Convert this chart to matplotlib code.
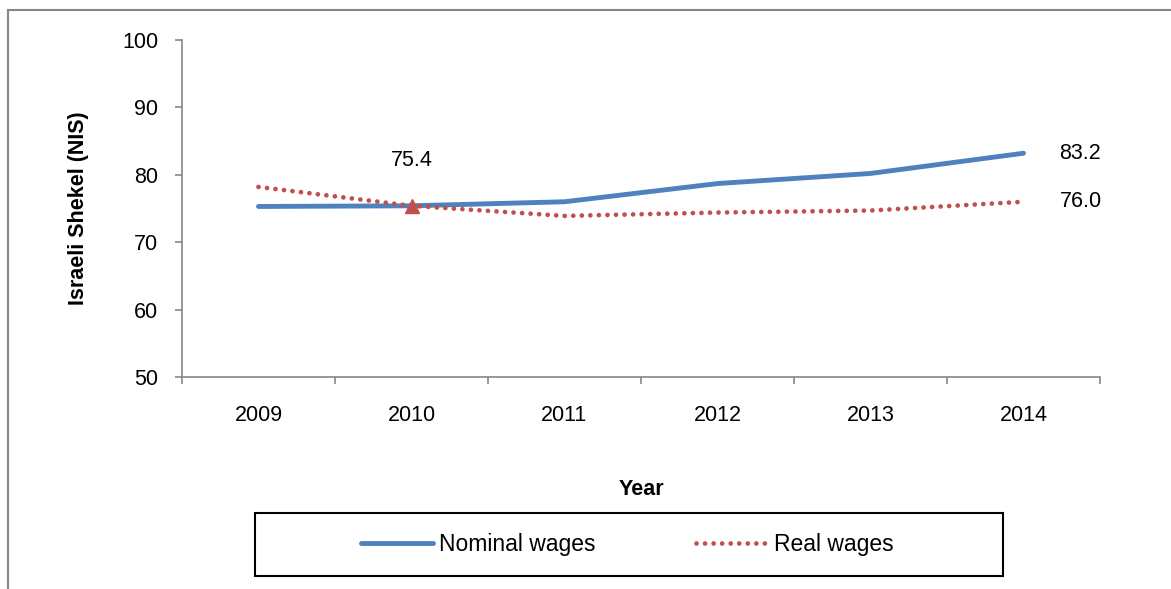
import matplotlib
matplotlib.use('Agg')
import matplotlib.pyplot as plt
from matplotlib.patches import Rectangle
import numpy as np

years = ['2009', '2010', '2011', '2012', '2013', '2014']
nominal = [75.3, 75.4, 76.0, 78.7, 80.2, 83.2]
real = [78.2, 75.4, 73.9, 74.4, 74.7, 76.0]

blue = '#4F81BD'
red = '#C0504D'
grey = '#868686'
fs = 15.5

plt.rcParams['font.family'] = ['Liberation Sans', 'DejaVu Sans']

fig = plt.figure(figsize=(11.71, 5.89), dpi=100)
ax = fig.add_axes([182/1171, 1-377/589, (1100-182)/1171, (377-40)/589])

x = np.arange(len(years))
ax.plot(x, nominal, color=blue, lw=3.5, solid_capstyle='round',
        label='Nominal wages')
ax.plot(x, real, color=red, lw=3.4, linestyle=(0, (0.01, 1.8)),
        dash_capstyle='round', label='Real wages')
ax.plot(x[1], real[1], marker='^', color=red, markersize=10, ls='none')

# data labels
ax.annotate(f'{real[1]:.1f}', (x[1], real[1]), xytext=(0, 25),
            textcoords='offset points', ha='center', va='bottom', fontsize=fs)
ax.annotate(f'{nominal[-1]:.1f}', (x[-1], nominal[-1]), xytext=(26, 0),
            textcoords='offset points', ha='left', va='center', fontsize=fs)
ax.annotate(f'{real[-1]:.1f}', (x[-1], real[-1]), xytext=(26, 0),
            textcoords='offset points', ha='left', va='center', fontsize=fs)

ax.set_xlim(-0.5, len(years) - 0.5)
ax.set_ylim(50, 100)
ax.set_yticks(range(50, 101, 10))
ax.set_xticks(np.arange(len(years) + 1) - 0.5)
ax.set_xticklabels([])
ax.set_xticks(x, minor=True)
ax.set_xticklabels(years, minor=True)
ax.tick_params(axis='x', which='minor', length=0, pad=20, labelsize=fs)
ax.tick_params(axis='x', which='major', length=5, color=grey, width=1.2)
ax.tick_params(axis='y', length=5, color=grey, width=1.2, pad=12, labelsize=fs)

for s in ['top', 'right']:
    ax.spines[s].set_visible(False)
for s in ['left', 'bottom']:
    ax.spines[s].set_color(grey)
    ax.spines[s].set_linewidth(1.2)

ax.set_ylabel('Israeli Shekel (NIS)', fontsize=fs, fontweight='bold', labelpad=24)
ax.set_xlabel('Year', fontsize=fs, fontweight='bold', labelpad=38)

# legend box, content centred inside
box = (255/1171, 1-576/589, 748/1171, 63/589)
fig.patches.append(Rectangle(box[:2], box[2], box[3], transform=fig.transFigure,
                             fill=False, edgecolor='black', lw=1.5))
fig.legend(loc='center', ncol=2, fontsize=16.5, handlelength=3.15,
           handletextpad=0.25, columnspacing=4.4,
           bbox_to_anchor=(box[0] + box[2]/2 - 2/1171, box[1] + box[3]/2),
           frameon=False)

# outer chart border
fig.patches.append(Rectangle((8/1171, -0.1), 1.2, 1-10/589+0.1,
                             transform=fig.transFigure, fill=False,
                             edgecolor=grey, lw=1.5))

fig.savefig('out.png', dpi=100)
